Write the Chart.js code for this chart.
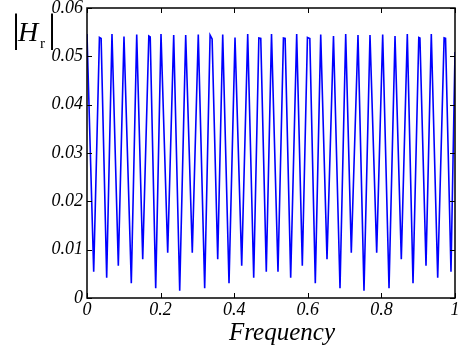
<!DOCTYPE html>
<html>
<head>
<meta charset="utf-8">
<script src="https://cdn.jsdelivr.net/npm/chart.js@4/dist/chart.umd.min.js"></script>
<style>
  html, body { margin: 0; padding: 0; background: #fff; }
  #wrap { position: relative; width: 462px; height: 352px; }
</style>
</head>
<body>
<div id="wrap"><canvas id="chart"></canvas></div>
<script>
// valeurs
const freq = [0.0000, 0.0182, 0.0338, 0.0384, 0.0535, 0.0679, 0.0851, 0.1005, 0.1204, 0.1351,
  0.1514, 0.1680, 0.1718, 0.1867, 0.2011, 0.2193, 0.2356, 0.2519, 0.2682, 0.2861,
  0.3024, 0.3198, 0.3345, 0.3400, 0.3552, 0.3688, 0.3859, 0.4022, 0.4204, 0.4367,
  0.4530, 0.4670, 0.4722, 0.4872, 0.5014, 0.5190, 0.5338, 0.5384, 0.5535, 0.5698,
  0.5851, 0.5990, 0.6055, 0.6204, 0.6351, 0.6522, 0.6698, 0.6875, 0.7030, 0.7182,
  0.7364, 0.7527, 0.7690, 0.7872, 0.8035, 0.8207, 0.8370, 0.8541, 0.8704, 0.8859,
  0.9016, 0.9047, 0.9212, 0.9356, 0.9530, 0.9704, 0.9743, 0.9891, 1.0000];
const magHr = [0.0546, 0.00544, 0.0539, 0.0537, 0.0042, 0.0546, 0.00668, 0.0541, 0.00304, 0.0545,
  0.00801, 0.0542, 0.0540, 0.00201, 0.0546, 0.00937, 0.0544, 0.00151, 0.0544, 0.00937,
  0.0545, 0.00201, 0.0544, 0.0536, 0.00801, 0.0545, 0.00304, 0.0539, 0.00668, 0.0546,
  0.0042, 0.0538, 0.0537, 0.00544, 0.0546, 0.00544, 0.0538, 0.0537, 0.0042, 0.0546,
  0.00668, 0.0539, 0.0537, 0.00304, 0.0545, 0.00801, 0.0542, 0.00201, 0.0546, 0.00937,
  0.0544, 0.00151, 0.0544, 0.00937, 0.0545, 0.00201, 0.0542, 0.00801, 0.0546, 0.00304,
  0.0539, 0.0538, 0.00668, 0.0546, 0.0042, 0.0538, 0.0537, 0.00544, 0.0509];

const xTicks = [0, 0.2, 0.4, 0.6, 0.8, 1];
const xTickLabels = ['0', '0.2', '0.4', '0.6', '0.8', '1'];
const yTicks = [0, 0.01, 0.02, 0.03, 0.04, 0.05, 0.06];
const yTickLabels = ['0', '0.01', '0.02', '0.03', '0.04', '0.05', '0.06'];

const serifItalic = { family: '"Liberation Serif", "Times New Roman", serif', style: 'italic', size: 18 };

// cadre noir + graduations vers l'intérieur, façon MATLAB
const boxPlugin = {
  id: 'box',
  afterDatasetsDraw(chart) {
    const { ctx, chartArea: a, scales } = chart;
    const len = 5;
    ctx.save();
    ctx.strokeStyle = '#000';
    ctx.lineWidth = 1;
    ctx.beginPath();
    xTicks.forEach(v => {
      const px = Math.round(scales.x.getPixelForValue(v)) + 0.5;
      ctx.moveTo(px, a.bottom); ctx.lineTo(px, a.bottom - len);
      ctx.moveTo(px, a.top); ctx.lineTo(px, a.top + len);
    });
    yTicks.forEach(v => {
      const py = Math.round(scales.y.getPixelForValue(v)) + 0.5;
      ctx.moveTo(a.left, py); ctx.lineTo(a.left + len, py);
      ctx.moveTo(a.right, py); ctx.lineTo(a.right - len, py);
    });
    ctx.stroke();
    ctx.lineWidth = 1.5;
    ctx.strokeRect(a.left, a.top, a.right - a.left, a.bottom - a.top);
    ctx.restore();
  }
};

// étiquettes d'axes : |H_r| et Frequency
const labelPlugin = {
  id: 'labels',
  afterDraw(chart) {
    const { ctx } = chart;
    ctx.save();
    ctx.fillStyle = '#000';
    ctx.textBaseline = 'alphabetic';
    ctx.font = '40px "Liberation Serif", serif';
    ctx.fillText('|', 12, 41);
    ctx.fillText('|', 48, 41);
    ctx.font = 'italic 28px "Liberation Serif", serif';
    ctx.fillText('H', 18, 41);
    ctx.font = '15px "Liberation Serif", serif';
    ctx.fillText('r', 40, 48);
    ctx.font = 'italic 25px "Liberation Serif", serif';
    ctx.textAlign = 'center';
    ctx.fillText('Frequency', 282, 340);
    ctx.restore();
  }
};

const ctx = document.getElementById('chart').getContext('2d');
new Chart(ctx, {
  type: 'line',
  data: {
    datasets: [{
      data: freq.map((f, i) => ({ x: f, y: magHr[i] })),
      borderColor: '#0000ff',
      borderWidth: 1.6,
      pointRadius: 0,
      tension: 0,
      fill: false
    }]
  },
  options: {
    responsive: true,
    maintainAspectRatio: false,
    animation: false,
    layout: { padding: { top: 8, right: 7, left: 0, bottom: 0 } },
    plugins: { legend: { display: false }, tooltip: { enabled: false } },
    scales: {
      x: {
        type: 'linear', min: 0, max: 1,
        afterBuildTicks: s => { s.ticks = xTicks.map(v => ({ value: v })); },
        afterFit: s => { s.height = 54; s.paddingLeft = 0; s.paddingRight = 0; },
        grid: { display: false, drawTicks: false },
        border: { display: false },
        ticks: {
          padding: 1, color: '#000', font: serifItalic, maxRotation: 0,
          callback: v => xTickLabels[xTicks.indexOf(v)]
        }
      },
      y: {
        min: 0, max: 0.06,
        afterBuildTicks: s => { s.ticks = yTicks.map(v => ({ value: v })); },
        afterFit: s => { s.width = 87; s.paddingTop = 0; s.paddingBottom = 0; },
        grid: { display: false, drawTicks: false },
        border: { display: false },
        ticks: {
          padding: 4, color: '#000', font: serifItalic,
          callback: v => yTickLabels[yTicks.indexOf(v)]
        }
      }
    }
  },
  plugins: [boxPlugin, labelPlugin]
});
</script>
</body>
</html>
